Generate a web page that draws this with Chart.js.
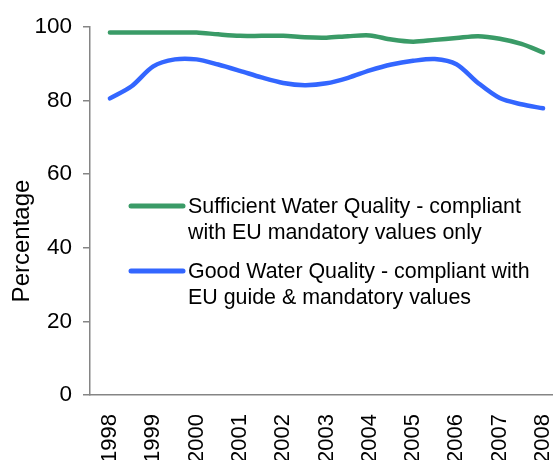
<!DOCTYPE html>
<html lang="en">
<head>
  <meta charset="UTF-8">
  <title>Bathing Water Quality</title>
  <script src="https://cdn.jsdelivr.net/npm/chart.js@4.4.0/dist/chart.umd.min.js"></script>
  <style>
    html, body { margin: 0; padding: 0; background: #fff; overflow: hidden; }
    #wrap { width: 553px; height: 460px; position: relative; }
  </style>
</head>
<body>
  <div id="wrap"><canvas id="chart" width="553" height="460"></canvas></div>
  <script>
    // tick labels on the x axis
    const years = [1998, 1999, 2000, 2001, 2002, 2003, 2004, 2005, 2006, 2007, 2008];
    // sample positions (half-year steps)
    const samplePoints = [1998, 1998.5, 1999, 1999.5, 2000, 2000.5, 2001, 2001.5, 2002, 2002.5, 2003,
                          2003.5, 2004, 2004.5, 2005, 2005.5, 2006, 2006.5, 2007, 2007.5, 2008];
    const sufficient = [98.5, 98.5, 98.5, 98.5, 98.5, 98.0, 97.6, 97.6, 97.6, 97.2, 97.1,
                        97.5, 97.7, 96.6, 96.0, 96.5, 97.0, 97.5, 96.8, 95.4, 93.1];
    const good = [80.6, 83.9, 89.3, 91.2, 91.2, 89.8, 88.1, 86.3, 84.8, 84.2, 84.7,
                  86.2, 88.2, 89.8, 90.8, 91.3, 89.9, 84.8, 80.7, 79.0, 77.9];
    const yTicks = [0, 20, 40, 60, 80, 100];

    const seriesLabels = [
      ['Sufficient Water Quality - compliant', 'with EU mandatory values only'],
      ['Good Water Quality - compliant with', 'EU guide & mandatory values']
    ];

    const FONT = '"Liberation Sans", Arial, sans-serif';
    const GREEN = '#3a9b67';
    const BLUE = '#3366ff';
    const AXIS = '#858585';

    const toXY = (vals) => vals.map((v, i) => ({ x: samplePoints[i], y: v }));

    // legend + axis title drawn by hand (two-line labels)
    const extras = {
      id: 'extras',
      afterDraw(chart) {
        const ctx = chart.ctx;
        ctx.save();
        ctx.font = '21.4px ' + FONT;
        ctx.fillStyle = '#000';
        ctx.textBaseline = 'alphabetic';
        const rows = [{ y: 206, color: GREEN, text: seriesLabels[0] },
                      { y: 271, color: BLUE, text: seriesLabels[1] }];
        rows.forEach(r => {
          ctx.strokeStyle = r.color;
          ctx.lineWidth = 5;
          ctx.lineCap = 'round';
          ctx.beginPath();
          ctx.moveTo(131, r.y);
          ctx.lineTo(183, r.y);
          ctx.stroke();
          ctx.fillText(r.text[0], 188, r.y + 7);
          ctx.fillText(r.text[1], 188, r.y + 33);
        });
        ctx.translate(29, 241);
        ctx.rotate(-Math.PI / 2);
        ctx.textAlign = 'center';
        ctx.font = '24px ' + FONT;
        ctx.fillText('Percentage', 0, 0);
        ctx.restore();
      }
    };

    new Chart(document.getElementById('chart'), {
      type: 'line',
      data: {
        datasets: [
          { label: seriesLabels[0].join(' '), data: toXY(sufficient), borderColor: GREEN, borderWidth: 4.5,
            pointRadius: 0, tension: 0.3, borderCapStyle: 'round', fill: false },
          { label: seriesLabels[1].join(' '), data: toXY(good), borderColor: BLUE, borderWidth: 4.5,
            pointRadius: 0, tension: 0.3, borderCapStyle: 'round', fill: false }
        ]
      },
      options: {
        responsive: false,
        animation: false,
        layout: { padding: { top: 27, right: 0, left: 0, bottom: 0 } },
        plugins: { legend: { display: false }, tooltip: { enabled: false } },
        scales: {
          x: {
            type: 'linear',
            min: 1997.54,
            max: 2008.23,
            afterBuildTicks: s => { s.ticks = years.map(v => ({ value: v })); },
            afterFit: s => { s.height = 65; s.paddingLeft = 0; s.paddingRight = 0; },
            grid: { display: false, drawTicks: false },
            border: { display: true, color: AXIS, width: 1.5 },
            ticks: {
              autoSkip: false, maxRotation: 90, minRotation: 90, padding: 19,
              color: '#000', font: { family: FONT, size: 22 },
              callback: v => String(v)
            }
          },
          y: {
            min: 0,
            max: 100,
            afterBuildTicks: s => { s.ticks = yTicks.map(v => ({ value: v })); },
            afterFit: s => { s.width = 90; s.paddingTop = 0; s.paddingBottom = 0; },
            grid: { display: true, drawOnChartArea: false, drawTicks: true, tickLength: 7, color: AXIS, lineWidth: 1.5 },
            border: { display: true, color: AXIS, width: 1.5 },
            ticks: { padding: 11, color: '#000', font: { family: FONT, size: 22.5 } }
          }
        }
      },
      plugins: [extras]
    });
  </script>
</body>
</html>
